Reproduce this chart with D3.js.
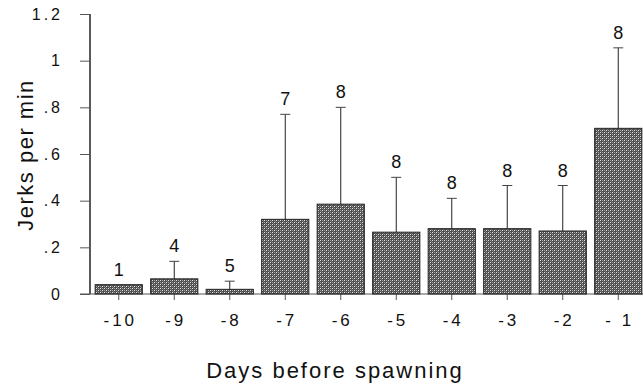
<!DOCTYPE html>
<html>
<head>
<meta charset="utf-8">
<script src="https://cdn.jsdelivr.net/npm/d3@7"></script>
<style>
  body { margin: 0; background: #fff; }
  svg { display: block; }
  text { font-family: "Liberation Sans", Arial, sans-serif; fill: #111; }
</style>
</head>
<body>
<div id="chart"></div>
<script>
// --- data -------------------------------------------------------------
var days = ['-10', '-9', '-8', '-7', '-6', '-5', '-4', '-3', '-2', '- 1'];
var means = [0.04, 0.065, 0.02, 0.32, 0.385, 0.265, 0.28, 0.28, 0.27, 0.71];
var upper = [null, 0.14, 0.055, 0.77, 0.80, 0.50, 0.41, 0.465, 0.465, 1.055];
var counts = [1, 4, 5, 7, 8, 8, 8, 8, 8, 8];
var yTicks = [0, 0.2, 0.4, 0.6, 0.8, 1, 1.2];
var yTickLabels = ['0', '.2', '.4', '.6', '.8', '1', '1.2'];

var width = 643, height = 386;

var svg = d3.select('#chart').append('svg')
    .attr('width', width)
    .attr('height', height);

// mottled crosshatch fill like the print
var defs = svg.append('defs');
var pat = defs.append('pattern')
    .attr('id', 'hatch')
    .attr('patternUnits', 'userSpaceOnUse')
    .attr('width', 4)
    .attr('height', 4);
pat.append('rect').attr('width', 4).attr('height', 4).attr('fill', '#4c4c4c');
var dots = [[0, 0, '#e6e6e6'], [2, 2, '#e6e6e6'], [2, 0, '#a4a4a4'], [0, 2, '#a4a4a4'],
            [1, 3, '#787878'], [3, 1, '#787878']];
dots.forEach(function (p) {
    pat.append('rect').attr('x', p[0]).attr('y', p[1])
        .attr('width', 1).attr('height', 1).attr('fill', p[2]);
});

var x = d3.scaleBand()
    .domain(days)
    .range([91, 646])
    .paddingInner(0.15)
    .paddingOuter(0.075);

var y = d3.scaleLinear()
    .domain([0, 1.2])
    .range([294, 14]);

// --- y axis -------------------------------------------------------------
var yAxis = d3.axisLeft(y)
    .tickValues(yTicks)
    .tickFormat(function (d, i) { return yTickLabels[i]; })
    .tickSize(10)
    .tickPadding(17);

var gy = svg.append('g')
    .attr('transform', 'translate(90,0)')
    .call(yAxis);
gy.select('.domain').attr('stroke', '#222').attr('stroke-width', 1.5).attr('d', 'M0,' + y(1.2) + 'V' + y(0));
gy.selectAll('.tick line').attr('stroke', '#555');
gy.selectAll('.tick text')
    .attr('font-size', 16)
    .attr('letter-spacing', 3)
    .attr('fill', '#111');

// --- x axis -------------------------------------------------------------
var xAxis = d3.axisBottom(x)
    .tickSize(6)
    .tickPadding(14);

var gx = svg.append('g')
    .attr('transform', 'translate(0,294)')
    .call(xAxis);
gx.select('.domain').attr('stroke', '#555').attr('d', 'M80,0H' + width);
gx.selectAll('.tick line').attr('stroke', '#555');
gx.selectAll('.tick text')
    .attr('font-size', 17)
    .attr('letter-spacing', 3)
    .attr('dx', 1.5)
    .attr('fill', '#111')
    .style('white-space', 'pre');

// --- bars ---------------------------------------------------------------
svg.append('g').selectAll('rect')
    .data(days)
    .enter().append('rect')
    .attr('x', function (d) { return x(d); })
    .attr('y', function (d, i) { return y(means[i]); })
    .attr('width', x.bandwidth())
    .attr('height', function (d, i) { return y(0) - y(means[i]); })
    .attr('fill', 'url(#hatch)')
    .attr('stroke', '#222')
    .attr('stroke-width', 1);

// --- error bars ---------------------------------------------------------
var err = svg.append('g');
days.forEach(function (d, i) {
    if (upper[i] == null) return;
    var cx = x(d) + x.bandwidth() / 2;
    err.append('line')
        .attr('x1', cx).attr('x2', cx)
        .attr('y1', y(means[i])).attr('y2', y(upper[i]))
        .attr('stroke', '#222').attr('stroke-width', 1);
    err.append('line')
        .attr('x1', cx - 5).attr('x2', cx + 5)
        .attr('y1', y(upper[i])).attr('y2', y(upper[i]))
        .attr('stroke', '#444').attr('stroke-width', 1);
});

// --- n labels -----------------------------------------------------------
svg.append('g').selectAll('text')
    .data(days)
    .enter().append('text')
    .attr('x', function (d) { return x(d) + x.bandwidth() / 2; })
    .attr('y', function (d, i) {
        var top = upper[i] == null ? means[i] : upper[i];
        return y(top) - 9;
    })
    .attr('text-anchor', 'middle')
    .attr('font-size', 18)
    .text(function (d, i) { return counts[i]; });

// --- axis titles --------------------------------------------------------
svg.append('text')
    .attr('transform', 'translate(33,155) rotate(-90)')
    .attr('text-anchor', 'middle')
    .attr('font-size', 22)
    .attr('letter-spacing', 1.5)
    .text('Jerks per min');

svg.append('text')
    .attr('x', 335)
    .attr('y', 378)
    .attr('text-anchor', 'middle')
    .attr('font-size', 22)
    .attr('letter-spacing', 2)
    .text('Days before spawning');
</script>
</body>
</html>
